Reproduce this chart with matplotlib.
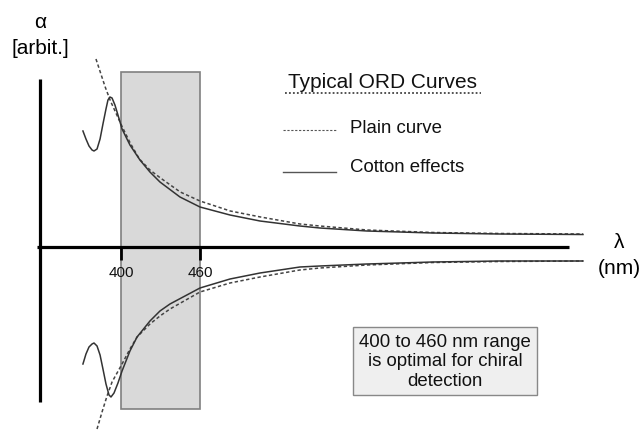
import matplotlib
matplotlib.use("Agg")
import matplotlib.pyplot as plt
from matplotlib.patches import Rectangle

plt.rcParams['font.family'] = ['Liberation Sans', 'DejaVu Sans']

# ---- data (wavelength in nm, rotation alpha in arbitrary units) ----
plain_up_nm = [381, 388, 392, 401, 407, 414, 422, 430, 445, 460, 483, 506, 536, 551, 587, 637, 688, 751]
plain_up_a = [18.75, 15.95, 14.55, 11.95, 10.35, 8.75, 7.65, 6.85, 5.45, 4.55, 3.55, 2.95, 2.25, 2.05, 1.65, 1.4, 1.3, 1.25]

cotton_up_nm = [371.1, 373.4, 375.7, 378.0, 379.5, 381.8, 384.1, 386.3, 388.6, 390.1, 391.6, 393.2, 395.4,
                397.7, 400.8, 406.8, 414.4, 422.0, 429.6, 444.8, 460.0, 482.8, 505.6, 535.9, 551.1, 586.8,
                637.0, 687.8, 750.9]
cotton_up_a = [11.55, 10.75, 10.05, 9.65, 9.55, 9.75, 10.75, 12.25, 13.75, 14.65, 14.95, 14.85, 14.15,
               13.15, 11.75, 10.15, 8.65, 7.45, 6.45, 4.95, 3.95, 3.15, 2.55, 2.05, 1.85, 1.55,
               1.35, 1.25, 1.2]

plain_lo_nm = [381.8, 385.6, 389.4, 393.2, 400.8, 406.8, 412.2, 422.0, 429.6, 437.2, 460.0, 482.8, 505.6,
               535.9, 551.1, 586.8, 637.0, 687.8, 750.9]
plain_lo_a = [-18.25, -16.55, -14.95, -13.55, -11.75, -10.25, -9.05, -7.75, -6.95, -6.25, -4.55, -3.65, -3.05,
              -2.35, -2.15, -1.85, -1.6, -1.5, -1.45]

cotton_lo_nm = [371.1, 373.4, 375.7, 378.0, 379.5, 381.8, 384.1, 386.3, 388.6, 390.9, 392.4, 394.7, 397.7,
                400.8, 406.8, 412.2, 422.0, 429.6, 437.2, 460.0, 482.8, 505.6, 535.9, 551.1, 586.8,
                637.0, 687.8, 750.9]
cotton_lo_a = [-11.75, -10.75, -10.05, -9.75, -9.65, -9.95, -10.85, -12.25, -13.75, -14.85, -15.05, -14.65, -13.65,
               -12.45, -10.45, -9.05, -7.45, -6.45, -5.75, -4.15, -3.25, -2.65, -2.05, -1.95, -1.75,
               -1.55, -1.45, -1.45]

band_nm = [400, 460]
tick_labels = ["400", "460"]

# ---- figure ----
fig = plt.figure(figsize=(6.43, 4.31), dpi=100)
ax = fig.add_axes([0, 0, 1, 1])
ax.set_xlim(308.1, 796.5)
ax.set_ylim(-18.35, 24.75)
ax.axis('off')

# shaded optimal range
ax.add_patch(Rectangle((band_nm[0], -16.25), band_nm[1] - band_nm[0], 33.7,
                       facecolor='#d9d9d9', edgecolor='#808080', lw=1.2, zorder=1))

# axes lines
ax.plot([336.2, 740.3], [0, 0], color='black', lw=2.3, zorder=3, solid_capstyle='butt')
ax.plot([338.5, 338.5], [16.75, -15.55], color='black', lw=2.3, zorder=3, solid_capstyle='butt')
for v, lab in zip(band_nm, tick_labels):
    ax.plot([v, v], [0, -1.35], color='black', lw=2.0, zorder=3, solid_capstyle='butt')
    ax.text(v, -2.55, lab, ha='center', va='center', fontsize=11, color='#111')

dash_kw = dict(color='#444444', lw=1.1, dashes=(2.2, 1.6), zorder=4)
solid_kw = dict(color='#333333', lw=1.1, zorder=5, solid_joinstyle='round')
ax.plot(plain_up_nm, plain_up_a, **dash_kw)
ax.plot(plain_lo_nm, plain_lo_a, **dash_kw)
ax.plot(cotton_up_nm, cotton_up_a, **solid_kw)
ax.plot(cotton_lo_nm, cotton_lo_a, **solid_kw)

# axis labels
fig.text(40 / 643, 1 - 22 / 431, "α", ha='center', va='center', fontsize=15)
fig.text(40 / 643, 1 - 48 / 431, "[arbit.]", ha='center', va='center', fontsize=15)
fig.text(619 / 643, 1 - 243 / 431, "λ", ha='center', va='center', fontsize=15)
fig.text(619 / 643, 1 - 268 / 431, "(nm)", ha='center', va='center', fontsize=15)

# legend-like block
fig.text(288 / 643, 1 - 83 / 431, "Typical ORD Curves", ha='left', va='center', fontsize=15, color='#111')
fig.add_artist(plt.Line2D([285 / 643, 481 / 643], [1 - 94 / 431, 1 - 94 / 431], color='#444', lw=1.3,
                          dashes=(1, 1.2)))
fig.add_artist(plt.Line2D([283 / 643, 337 / 643], [1 - 131 / 431, 1 - 131 / 431], color='#555', lw=0.8,
                          dashes=(2, 1.5)))
fig.text(350 / 643, 1 - 129 / 431, "Plain curve", ha='left', va='center', fontsize=13.4, color='#111')
fig.add_artist(plt.Line2D([283 / 643, 336 / 643], [1 - 173 / 431, 1 - 173 / 431], color='#555', lw=1.0))
fig.text(350 / 643, 1 - 167 / 431, "Cotton effects", ha='left', va='center', fontsize=13.4, color='#111')

# note box
fig.text(445 / 643, 1 - 362 / 431, "400 to 460 nm range\nis optimal for chiral\ndetection",
         ha='center', va='center', fontsize=13.4, color='#111', linespacing=1.2,
         bbox=dict(boxstyle='square,pad=0.3', facecolor='#efefef', edgecolor='#888888', lw=1.0))

fig.savefig("out.png", dpi=100)
